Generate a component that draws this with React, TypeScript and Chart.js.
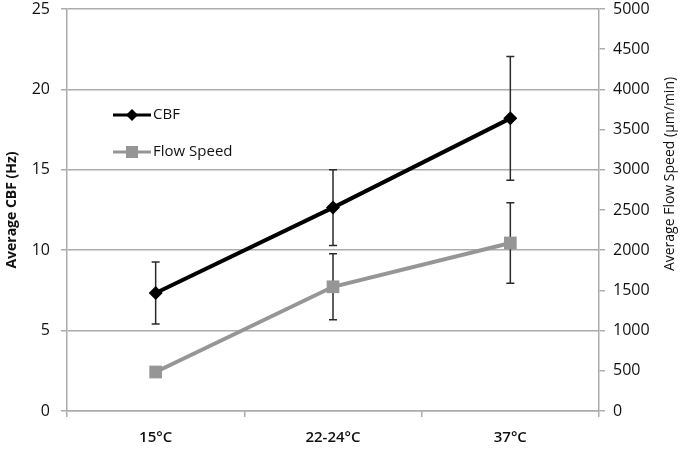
import { useEffect, useRef } from "react"
import { Chart, registerables } from "chart.js"

Chart.register(...registerables)

const categories = ["15°C", "22-24°C", "37°C"]
const cbfValues = [7.34, 12.65, 18.2]
const cbfErrors = [1.93, 2.35, 3.85]
const flowValues = [485, 1545, 2090]
const flowErrors = [0, 410, 500]

const gridColor = "rgb(172, 172, 172)"
const textColor = "#111"
const flowColor = "rgb(150, 150, 150)"
const fontFamily = "'Open Sans', 'DejaVu Sans', sans-serif"

// vertical error bars, drawn under the lines so the markers cover them
const errorBars = {
  id: "errorBars",
  beforeDatasetsDraw(chart: any) {
    const ctx = chart.ctx
    const x = chart.scales.x
    chart.data.datasets.forEach((ds: any) => {
      const scale = chart.scales[ds.yAxisID]
      ds.errors.forEach((e: number, i: number) => {
        if (!e) return
        const px = x.getPixelForValue(i)
        const top = scale.getPixelForValue(ds.data[i] + e)
        const bottom = scale.getPixelForValue(ds.data[i] - e)
        ctx.save()
        ctx.strokeStyle = "#2a2a2a"
        ctx.lineWidth = 1.5
        ctx.beginPath()
        ctx.moveTo(px, top)
        ctx.lineTo(px, bottom)
        ctx.moveTo(px - 4, top)
        ctx.lineTo(px + 4, top)
        ctx.moveTo(px - 4, bottom)
        ctx.lineTo(px + 4, bottom)
        ctx.stroke()
        ctx.restore()
      })
    })
  },
}

// legend sits inside the plot, plus the right title that reads bottom-to-top
const extras = {
  id: "extras",
  afterDraw(chart: any) {
    const ctx = chart.ctx
    const area = chart.chartArea
    ctx.save()
    ctx.font = `15px ${fontFamily}`
    ctx.fillStyle = textColor
    ctx.textBaseline = "middle"
    chart.data.datasets.forEach((ds: any, i: number) => {
      const y = area.top + 106 + i * 37
      const x0 = area.left + 46
      ctx.strokeStyle = ds.borderColor
      ctx.lineWidth = 3
      ctx.beginPath()
      ctx.moveTo(x0, y)
      ctx.lineTo(x0 + 38, y)
      ctx.stroke()
      ctx.fillStyle = ds.pointBackgroundColor
      ctx.beginPath()
      if (ds.pointStyle === "rectRot") {
        ctx.moveTo(x0 + 19, y - 6)
        ctx.lineTo(x0 + 25, y)
        ctx.lineTo(x0 + 19, y + 6)
        ctx.lineTo(x0 + 13, y)
      } else {
        ctx.rect(x0 + 13, y - 6, 12, 12)
      }
      ctx.fill()
      ctx.fillStyle = textColor
      ctx.fillText(ds.label, x0 + 40, y)
    })

    ctx.translate(670, 174)
    ctx.rotate(-Math.PI / 2)
    ctx.textAlign = "center"
    ctx.font = `500 14px ${fontFamily}`
    ctx.fillText("Average Flow Speed (µm/min)", 0, 0)
    ctx.restore()
  },
}

export default function App() {
  const chartRef = useRef<HTMLCanvasElement>(null)
  const chartInstance = useRef<Chart | null>(null)

  useEffect(() => {
    if (!chartRef.current) return
    if (chartInstance.current) chartInstance.current.destroy()
    const ctx = chartRef.current.getContext("2d")
    if (!ctx) return

    chartInstance.current = new Chart(ctx, {
      type: "line",
      data: {
        labels: categories,
        datasets: [
          {
            label: "CBF",
            data: cbfValues,
            errors: cbfErrors,
            yAxisID: "y",
            borderColor: "#000",
            borderWidth: 4,
            pointStyle: "rectRot",
            pointRadius: 7,
            pointBackgroundColor: "#000",
            pointBorderWidth: 0,
          } as any,
          {
            label: "Flow Speed",
            data: flowValues,
            errors: flowErrors,
            yAxisID: "y1",
            borderColor: flowColor,
            borderWidth: 4,
            pointStyle: "rect",
            pointRadius: 9,
            pointBackgroundColor: flowColor,
            pointBorderWidth: 0,
          } as any,
        ],
      },
      options: {
        responsive: true,
        maintainAspectRatio: false,
        animation: false,
        layout: { padding: { top: 9, left: 0, right: 0, bottom: 0 } },
        plugins: {
          legend: { display: false },
          tooltip: { enabled: false },
        },
        scales: {
          x: {
            offset: true,
            grid: {
              offset: true,
              drawOnChartArea: false,
              color: gridColor,
              lineWidth: 1.5,
              tickLength: 6,
            },
            border: { color: gridColor, width: 1.5 },
            ticks: {
              color: textColor,
              font: { family: fontFamily, size: 15, weight: 600 },
              padding: 12,
            },
            afterFit: (s: any) => {
              s.height = 40
              s.paddingLeft = 0
              s.paddingRight = 0
            },
          },
          y: {
            position: "left",
            min: 0,
            max: 25,
            ticks: {
              stepSize: 5,
              color: textColor,
              font: { family: fontFamily, size: 16 },
              padding: 11,
            },
            grid: { color: gridColor, lineWidth: 1.5, tickLength: 6 },
            border: { color: gridColor, width: 1.5 },
            title: {
              display: true,
              text: "Average CBF (Hz)",
              color: textColor,
              font: { family: fontFamily, size: 14, weight: "bold" },
              padding: { top: 4, bottom: 0 },
            },
            afterFit: (s: any) => {
              s.width = 67
              s.paddingTop = 0
              s.paddingBottom = 0
            },
          },
          y1: {
            position: "right",
            min: 0,
            max: 5000,
            ticks: {
              stepSize: 500,
              color: textColor,
              font: { family: fontFamily, size: 16 },
              padding: 8,
              callback: (v: any) => String(v),
            },
            grid: { drawOnChartArea: false, color: gridColor, lineWidth: 1.5, tickLength: 6 },
            border: { color: gridColor, width: 1.5 },
            afterFit: (s: any) => {
              s.width = 87
              s.paddingTop = 0
              s.paddingBottom = 0
            },
          },
        },
      },
      plugins: [errorBars, extras],
    })

    return () => {
      if (chartInstance.current) chartInstance.current.destroy()
    }
  }, [])

  return (
    <div style={{ position: "absolute", left: 0, top: 0, width: 686, height: 451, background: "#fff" }}>
      <canvas ref={chartRef}></canvas>
    </div>
  )
}
